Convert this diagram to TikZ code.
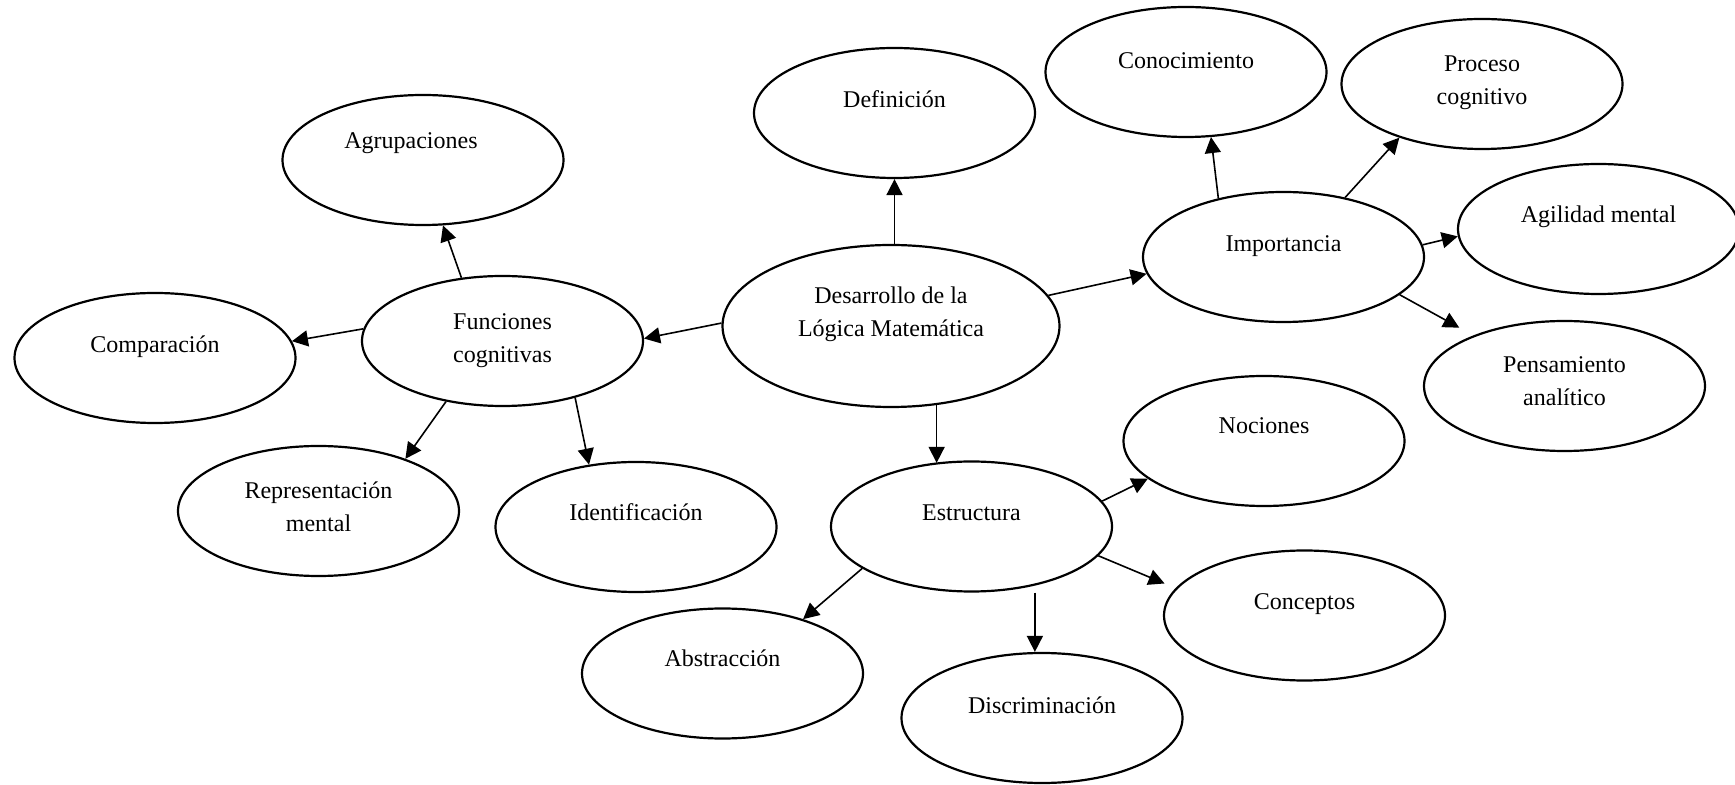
\documentclass[tikz,border=0pt]{standalone}
\usepackage{fontspec}
\setmainfont{Liberation Serif}
\usetikzlibrary{shapes.geometric,arrows.meta}
\begin{document}
\begin{tikzpicture}[x=0.5pt,y=-0.5pt,
  ell/.style={ellipse, draw, line width=1.1pt, minimum width=140.5pt, minimum height=65pt, inner sep=0pt},
  bigell/.style={ell, minimum width=168.5pt, minimum height=81pt},
  lbl/.style={font=\fontsize{12}{16.25}\selectfont, align=center, anchor=base, inner sep=0pt},
  arr/.style={-{Triangle[length=8pt,width=8pt]}, line width=0.8pt}]
\useasboundingbox (0,0) rectangle (1735,785);
\clip (0,0) rectangle (1735,785);
\fill[white] (0,0) rectangle (1735,785);
% ellipses
\node[bigell] (des) at (891,326) {};
\node[ell] (def) at (894.5,113) {};
\node[ell] (con) at (1186,72) {};
\node[ell] (pro) at (1482,84) {};
\node[ell] (agi) at (1598.5,229) {};
\node[ell] (imp) at (1283.5,257) {};
\node[ell] (fun) at (502.5,341) {};
\node[ell] (agr) at (423,160) {};
\node[ell] (com) at (155,358) {};
\node[ell] (pen) at (1564.5,386) {};
\node[ell] (noc) at (1264,441) {};
\node[ell] (rep) at (318.5,511) {};
\node[ell] (ide) at (636,527) {};
\node[ell] (est) at (971.5,526.5) {};
\node[ell] (cnc) at (1304.5,615.5) {};
\node[ell] (abs) at (722.5,673.5) {};
\node[ell] (dis) at (1042,718) {};
% texts (anchor base = baseline of the last line)
\node[lbl] at ([yshift=-5.25pt]des.center) {Desarrollo de la\\Lógica Matemática};
\node[lbl] at ([yshift=2.85pt]def.center) {Definición};
\node[lbl] at ([yshift=1.85pt]con.center) {Conocimiento};
\node[lbl] at ([yshift=-10.2pt]pro.center) {Proceso\\cognitivo};
\node[lbl] at ([yshift=3pt]agi.center) {Agilidad mental};
\node[lbl] at ([yshift=2.5pt]imp.center) {Importancia};
\node[lbl] at ([yshift=-10.6pt]fun.center) {Funciones\\cognitivas};
\node[lbl] at ([xshift=-6pt,yshift=5.85pt]agr.center) {Agrupaciones};
\node[lbl] at ([yshift=2.5pt]com.center) {Comparación};
\node[lbl] at ([yshift=-9.6pt]pen.center) {Pensamiento\\analítico};
\node[lbl] at ([yshift=3.5pt]noc.center) {Nociones};
\node[lbl] at ([yshift=-10.25pt]rep.center) {Representación\\mental};
\node[lbl] at ([yshift=3.15pt]ide.center) {Identificación};
\node[lbl] at ([yshift=3pt]est.center) {Estructura};
\node[lbl] at ([yshift=3pt]cnc.center) {Conceptos};
\node[lbl] at ([yshift=3.5pt]abs.center) {Abstracción};
\node[lbl] at ([yshift=2.5pt]dis.center) {Discriminación};
% connectors
\draw[arr] (def.south |- des.north) -- (def.south);
\draw[arr] (des.11) -- (imp.187);
\draw[arr] (des.179) -- (fun.1);
\draw[arr] (des.-60) -- (des.-60 |- est.121);
\draw[arr] (imp.138) -- (con.-69);
\draw[arr] (imp.44) -- (pro.213);
\draw[arr] (imp.5) -- (agi.183);
\draw[arr, shorten >=8pt] (imp.-18) -- (pen.151);
\draw[arr] (fun.123) -- (agr.-73);
\draw[arr] (fun.175) -- (com.7);
\draw[arr] (fun.-133) -- (rep.31);
\draw[arr] (fun.-38) -- (ide.127);
\draw[arr] (est.11) -- (noc.198);
\draw[arr, shorten >=6pt] (est.-13) -- (cnc.168);
\draw[arr] (est.201) -- (abs.34);
\draw[arr] ([yshift=-3.5pt]est.-43) -- (est.-43 |- dis.north);
\end{tikzpicture}
\end{document}
